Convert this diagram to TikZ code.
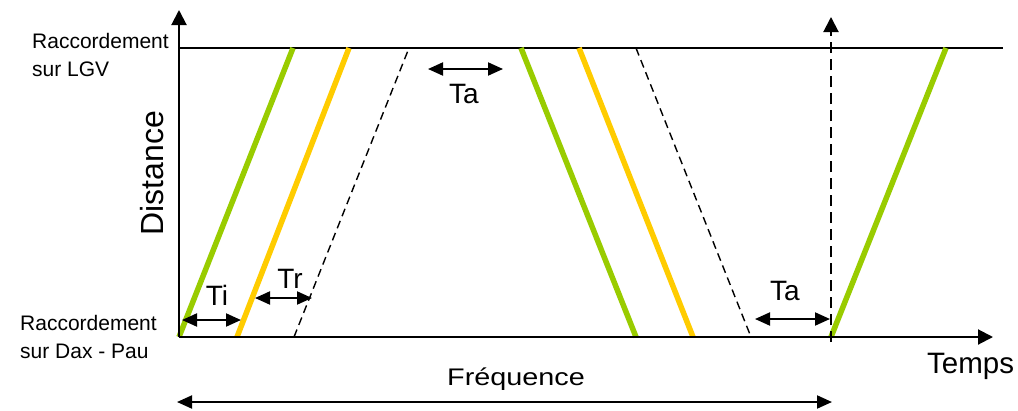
\documentclass[tikz,border=0pt]{standalone}
\usepackage{fontspec}
\setmainfont{Liberation Sans}
\usetikzlibrary{arrows.meta}
\definecolor{trgreen}{HTML}{99CC00}
\definecolor{trorange}{HTML}{FFCC00}
\tikzset{
  axisline/.style={line width=2pt,-{Triangle[length=15pt,width=15pt]}},
  plainline/.style={line width=2pt},
  greenpath/.style={line width=5.5pt,trgreen},
  orangepath/.style={line width=5.5pt,trorange},
  dashpath/.style={line width=1.4pt,dash pattern=on 8pt off 5pt},
  vdash/.style={line width=2pt,dash pattern=on 11pt off 6pt,-{Triangle[length=15pt,width=15pt]}},
  dimarrow/.style={line width=2pt,{Triangle[length=15pt,width=13pt]}-{Triangle[length=15pt,width=13pt]}},
  lbl/.style={inner sep=0pt,font=\fontsize{28}{32}\selectfont},
  sidelbl/.style={inner sep=0pt,align=left,anchor=north west,font=\fontsize{21}{28}\selectfont},
}
\begin{document}
\begin{tikzpicture}[x=1pt,y=-1pt]
\useasboundingbox[fill=white] (0,0) rectangle (1018,410);
% key coordinates
\coordinate (O) at (179,337);
\coordinate (ytip) at (179,10);
\coordinate (xtip) at (993,337);
\coordinate (topL) at (179,48);
\coordinate (topR) at (1003,48);
% paths
\coordinate (g1b) at (179,337); \coordinate (g1t) at (293,48);
\coordinate (o1b) at (237,337); \coordinate (o1t) at (349,48);
\coordinate (d1b) at (294,337); \coordinate (d1t) at (409,48);
\coordinate (g2t) at (521,48); \coordinate (g2b) at (636,337);
\coordinate (o2t) at (579,48); \coordinate (o2b) at (693,337);
\coordinate (d2t) at (636,48); \coordinate (d2b) at (751,337);
\coordinate (g3b) at (831,337); \coordinate (g3t) at (946,48);
\coordinate (vb) at (831,342); \coordinate (vt) at (831,17);
% dimension arrows
\coordinate (tiL) at (182,320); \coordinate (tiR) at (241,320);
\coordinate (trL) at (255,298); \coordinate (trR) at (312,298);
\coordinate (ta1L) at (428,69); \coordinate (ta1R) at (503,69);
\coordinate (ta2L) at (755,319); \coordinate (ta2R) at (830,319);
\coordinate (fL) at (177,402); \coordinate (fR) at (832,402);

\draw[plainline] (topL) -- (topR);
\draw[greenpath] (g1b) -- (g1t);
\draw[orangepath] (o1b) -- (o1t);
\draw[dashpath] (d1b) -- (d1t);
\draw[greenpath] (g2t) -- (g2b);
\draw[orangepath] (o2t) -- (o2b);
\draw[dashpath] (d2t) -- (d2b);
\draw[greenpath] (g3b) -- (g3t);
\draw[axisline] (O) -- (ytip);
\draw[axisline] (O) -- (xtip);
\draw[vdash] (vb) -- (vt);

\draw[dimarrow] (tiL) -- (tiR);
\draw[dimarrow] (trL) -- (trR);
\draw[dimarrow] (ta1L) -- (ta1R);
\draw[dimarrow] (ta2L) -- (ta2R);
\draw[dimarrow] (fL) -- (fR);

\node[lbl,anchor=base] (ti) at (217,305) {Ti};
\node[lbl,anchor=base] (tr) at (290,288) {Tr};
\node[lbl,anchor=base] (ta1) at (464,103) {Ta};
\node[lbl,anchor=base] (ta2) at (785,300) {Ta};
\node[lbl,anchor=base west,font=\fontsize{29.5}{34}\selectfont] (temps) at (927,373) {Temps};
\node[lbl,anchor=base] (freq) at (516,385) {\scalebox{1.2}[1]{\fontsize{24}{28}\selectfont Fréquence}};
\node[lbl,anchor=base,rotate=90,font=\fontsize{32}{36}\selectfont] (dist) at (163,173) {Distance};
\node[sidelbl] (lgv) at (32,33) {Raccordement\\sur LGV};
\node[sidelbl] (dax) at (20,315) {Raccordement\\sur Dax - Pau};
\end{tikzpicture}
\end{document}
